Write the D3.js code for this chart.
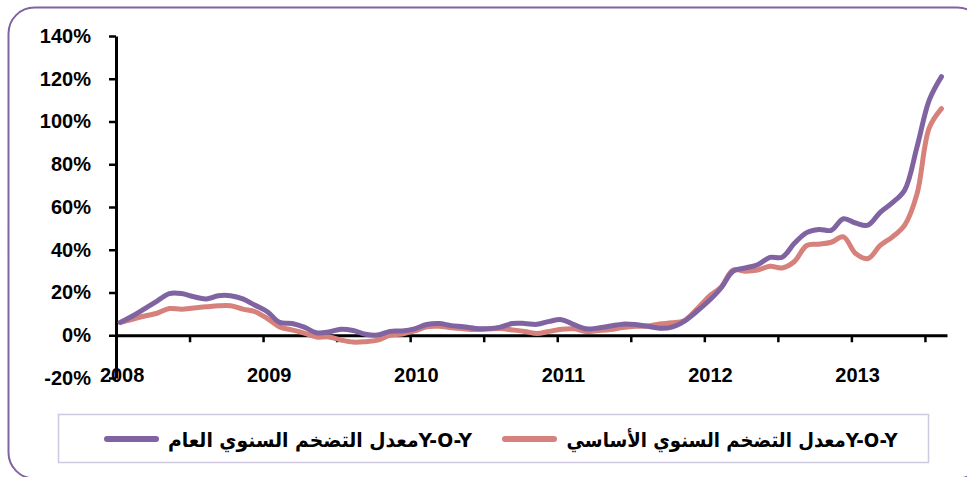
<!DOCTYPE html>
<html>
<head>
<meta charset="utf-8">
<script src="https://cdn.jsdelivr.net/npm/d3@7"></script>
<style>
  html, body { margin: 0; padding: 0; background: #fff; }
  svg { display: block; }
</style>
</head>
<body>
<div id="chart"></div>
<script>
// Monthly Y-O-Y inflation, Jan 2008 .. Aug 2013 (values in %)
const years = [2008, 2009, 2010, 2011, 2012, 2013];
const yTicks = [-20, 0, 20, 40, 60, 80, 100, 120, 140];

const headlineName = "Y-O-Yمعدل التضخم السنوي العام";
const coreName = "Y-O-Yمعدل التضخم السنوي الأساسي";

const headline = [
    6, 9, 12.5, 16, 19.5, 19.5, 18, 17, 18.5, 18.5, 17, 14,
    11, 6, 5.5, 3.8, 1.2, 1.5, 2.8, 2.2, 0.5, 0.1, 1.8, 2,
    3, 5, 5.5, 4.5, 4, 3.2, 3.1, 3.8, 5.5, 5.5, 5.1, 6.5,
    7.3, 5, 3, 3.4, 4.3, 5.2, 5, 4.2, 3.3, 3.8, 6.5, 11,
    16, 22, 30, 31.5, 33, 36.4, 36.5, 43, 48, 49.5, 49.1, 54.5,
    52.5, 51.5, 57.5, 62, 68, 88, 110, 121
];

const core = [
    6, 7.5, 9, 10.3, 12.5, 12.2, 12.8, 13.3, 13.8, 13.8, 12.2, 11,
    7.8, 3.9, 2.5, 1, -0.8, -0.8, -2.2, -3.2, -3, -2.3, 0, 0.6,
    2, 4, 4.2, 3.5, 3, 2.7, 2.9, 3.1, 2.5, 1.8, 0.8, 1.8,
    2.8, 3, 1.8, 2.2, 2.7, 3.6, 4.2, 4.3, 5.3, 5.8, 6.8, 12,
    18, 22.5, 30.5, 30, 30.5, 32.3, 31.5, 34.5, 42, 42.6, 43.5, 46,
    38.2, 35.9, 42, 46, 51.5, 66, 97, 106
];

const purple = "#8064A2";
const salmon = "#D6817B";

const width = 967, height = 477;

const svg = d3.select("#chart")
    .append("svg")
    .attr("width", width)
    .attr("height", height);

// outer rounded frame
svg.append("rect")
    .attr("x", 8.5)
    .attr("y", 7.5)
    .attr("width", 975)
    .attr("height", 471)
    .attr("rx", 26)
    .attr("fill", "#fff")
    .attr("stroke", purple)
    .attr("stroke-width", 2);

// scales (x in months since Jan 2008)
const x = d3.scaleLinear().domain([0, 67.8]).range([116, 947]);
const y = d3.scaleLinear().domain([-20, 140]).range([378, 36]);

const labelFont = "'Liberation Sans', Arial, sans-serif";

// y axis
const yAxis = svg.append("g")
    .attr("transform", `translate(${x(0)},0)`)
    .call(d3.axisLeft(y).tickValues(yTicks).tickSize(7).tickSizeOuter(0)
        .tickFormat(d => d + "%"));
yAxis.select(".domain").attr("stroke", "#000").attr("stroke-width", 3);
yAxis.selectAll(".tick line").attr("stroke", "#000").attr("stroke-width", 2.5);
yAxis.selectAll(".tick text")
    .attr("x", -25)
    .attr("font-family", labelFont)
    .attr("font-weight", "bold")
    .attr("font-size", "20px")
    .attr("fill", "#000");

// x axis at 0%
const months = d3.range(0, 67, 6);
const xAxis = svg.append("g")
    .attr("transform", `translate(0,${y(0)})`)
    .call(d3.axisBottom(x).tickValues(months).tickSize(7).tickSizeOuter(0).tickFormat(""));
xAxis.select(".domain").attr("stroke", "#000").attr("stroke-width", 3);
xAxis.selectAll(".tick line").attr("stroke", "#000").attr("stroke-width", 2.5);

// year labels (low position, centred on January)
svg.append("g")
    .selectAll("text")
    .data(years)
    .join("text")
    .attr("x", d => x((d - 2008) * 12 + 0.5))
    .attr("y", 382)
    .attr("text-anchor", "middle")
    .attr("font-family", labelFont)
    .attr("font-weight", "bold")
    .attr("font-size", "20px")
    .attr("fill", "#000")
    .text(d => d);

// lines
const line = d3.line()
    .x((d, i) => x(i + 0.35))
    .y(d => y(d))
    .curve(d3.curveCatmullRom.alpha(0.5));

svg.append("path")
    .datum(core)
    .attr("fill", "none")
    .attr("stroke", salmon)
    .attr("stroke-width", 5)
    .attr("stroke-linejoin", "round")
    .attr("stroke-linecap", "round")
    .attr("d", line);

svg.append("path")
    .datum(headline)
    .attr("fill", "none")
    .attr("stroke", purple)
    .attr("stroke-width", 5)
    .attr("stroke-linejoin", "round")
    .attr("stroke-linecap", "round")
    .attr("d", line);

// legend
svg.append("rect")
    .attr("x", 58.5)
    .attr("y", 414.5)
    .attr("width", 870)
    .attr("height", 48)
    .attr("fill", "#fff")
    .attr("stroke", "#CFC8DE")
    .attr("stroke-width", 1.5);

const legendItems = [
    { name: headlineName, color: purple, x1: 107, x2: 156, tx: 320, tw: 304 },
    { name: coreName, color: salmon, x1: 505, x2: 554, tx: 732, tw: 331 }
];

const lg = svg.append("g").selectAll("g").data(legendItems).join("g");

lg.append("line")
    .attr("x1", d => d.x1)
    .attr("x2", d => d.x2)
    .attr("y1", 439)
    .attr("y2", 439)
    .attr("stroke", d => d.color)
    .attr("stroke-width", 6)
    .attr("stroke-linecap", "round");

lg.append("text")
    .attr("x", d => d.tx)
    .attr("y", 447)
    .attr("direction", "rtl")
    .attr("text-anchor", "middle")
    .attr("font-family", "'DejaVu Sans', sans-serif")
    .attr("font-weight", "bold")
    .attr("font-size", "20px")
    .attr("fill", "#000")
    .attr("textLength", d => d.tw)
    .attr("lengthAdjust", "spacingAndGlyphs")
    .text(d => d.name);
</script>
</body>
</html>
